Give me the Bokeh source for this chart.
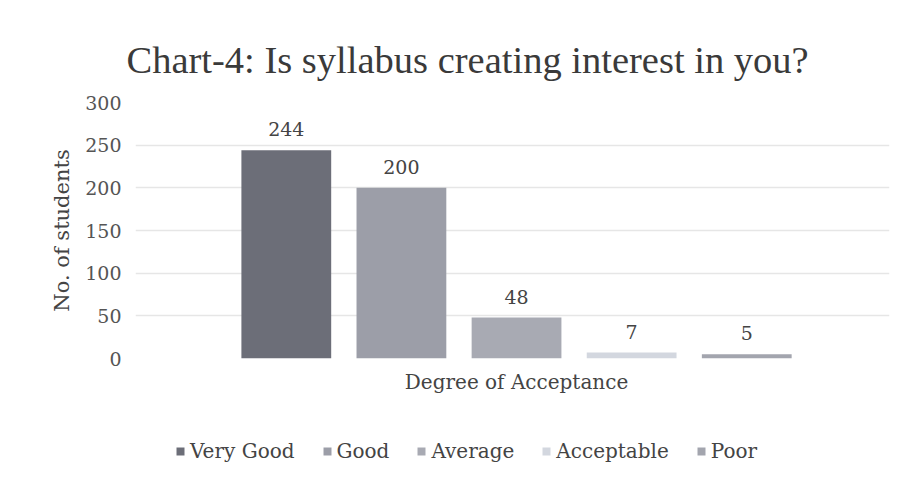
from bokeh.plotting import figure
from bokeh.layouts import column
from bokeh.models import ColumnDataSource, Range1d, FixedTicker, Legend, LegendItem
from bokeh.embed import file_html
from bokeh.resources import INLINE

categories = ["Very Good", "Good", "Average", "Acceptable", "Poor"]
values = [244, 200, 48, 7, 5]
colors = ["#6c6e78", "#9c9ea8", "#a8aab3", "#d3d7df", "#a3a5ae"]
group_label = "Degree of Acceptance"
y_ticks = [0, 50, 100, 150, 200, 250, 300]
title_text = "Chart-4: Is syllabus creating interest in you?"
y_label = "No. of students"

n = len(categories)
xs = [i - (n - 1) / 2 for i in range(n)]
src = ColumnDataSource(dict(x=xs, top=values, cat=categories, color=colors,
                            label=[str(v) for v in values]))

TFONT = "Liberation Serif"
FONT = "DejaVu Serif"
TXT = "#444444"

p = figure(width=891, height=400, output_backend="svg", toolbar_location=None,
           x_range=Range1d(-3.31, 3.24), y_range=Range1d(0, 300),
           min_border_left=135, min_border_right=2, min_border_top=102, min_border_bottom=42)
p.outline_line_color = None
p.background_fill_color = "white"
p.border_fill_color = "white"

p.title.text = title_text
p.title.text_font = TFONT
p.title.text_font_size = "38.5px"
p.title.text_font_style = "normal"
p.title.text_color = "#3a3a3a"
p.title.align = "left"
p.title.offset = -9
p.title.standoff = 44

r = p.vbar(x="x", top="top", width=0.78, fill_color="color", line_color=None, source=src)
p.text(x="x", y="top", text="label", source=src, text_align="center", text_baseline="bottom",
       y_offset=-14, text_font_size="19px", text_color=TXT, text_font={"value": FONT})

p.xgrid.grid_line_color = None
p.ygrid.grid_line_color = "#e6e6e6"
p.ygrid.grid_line_width = 1.5

p.yaxis.ticker = FixedTicker(ticks=y_ticks)
p.yaxis.axis_line_color = None
p.yaxis.major_tick_line_color = None
p.yaxis.minor_tick_line_color = None
p.yaxis.major_label_text_font = FONT
p.yaxis.major_label_text_font_size = "19px"
p.yaxis.major_label_text_color = "#555555"
p.yaxis.major_label_standoff = 8
p.yaxis.axis_label = y_label
p.yaxis.axis_label_text_font = FONT
p.yaxis.axis_label_text_font_size = "21px"
p.yaxis.axis_label_text_font_style = "normal"
p.yaxis.axis_label_text_color = TXT
p.yaxis.axis_label_standoff = 8

p.xaxis.ticker = FixedTicker(ticks=[0])
p.xaxis.major_label_overrides = {0: group_label}
p.xaxis.axis_line_color = None
p.xaxis.major_tick_line_color = None
p.xaxis.minor_tick_line_color = None
p.xaxis.major_label_text_font = FONT
p.xaxis.major_label_text_font_size = "20px"
p.xaxis.major_label_text_color = TXT
p.xaxis.major_label_standoff = 5

# legend strip below the chart (hidden proxy renderer supplies the swatches)
q = figure(width=891, height=69, output_backend="svg", toolbar_location=None,
           x_range=Range1d(-3.31, 3.24), y_range=Range1d(0, 300),
           min_border_left=135, min_border_right=2, min_border_top=0, min_border_bottom=0)
q.outline_line_color = None
q.axis.visible = False
q.grid.visible = False
q.border_fill_color = "white"
rq = q.vbar(x="x", top="top", width=0.78, fill_color="color", line_color=None, source=src)
rq.visible = False
legend = Legend(items=[LegendItem(label=categories[i], renderers=[rq], index=i) for i in range(n)],
                orientation="horizontal", location=(40, 6),
                glyph_width=10, glyph_height=10, spacing=27, label_standoff=5,
                label_text_font=FONT, label_text_font_size="20px", label_text_color=TXT,
                inactive_fill_alpha=0,
                border_line_color=None, background_fill_alpha=0, padding=0, margin=0)
q.add_layout(legend, "center")

open("out.html", "w").write(file_html(column(p, q, spacing=0), INLINE))
